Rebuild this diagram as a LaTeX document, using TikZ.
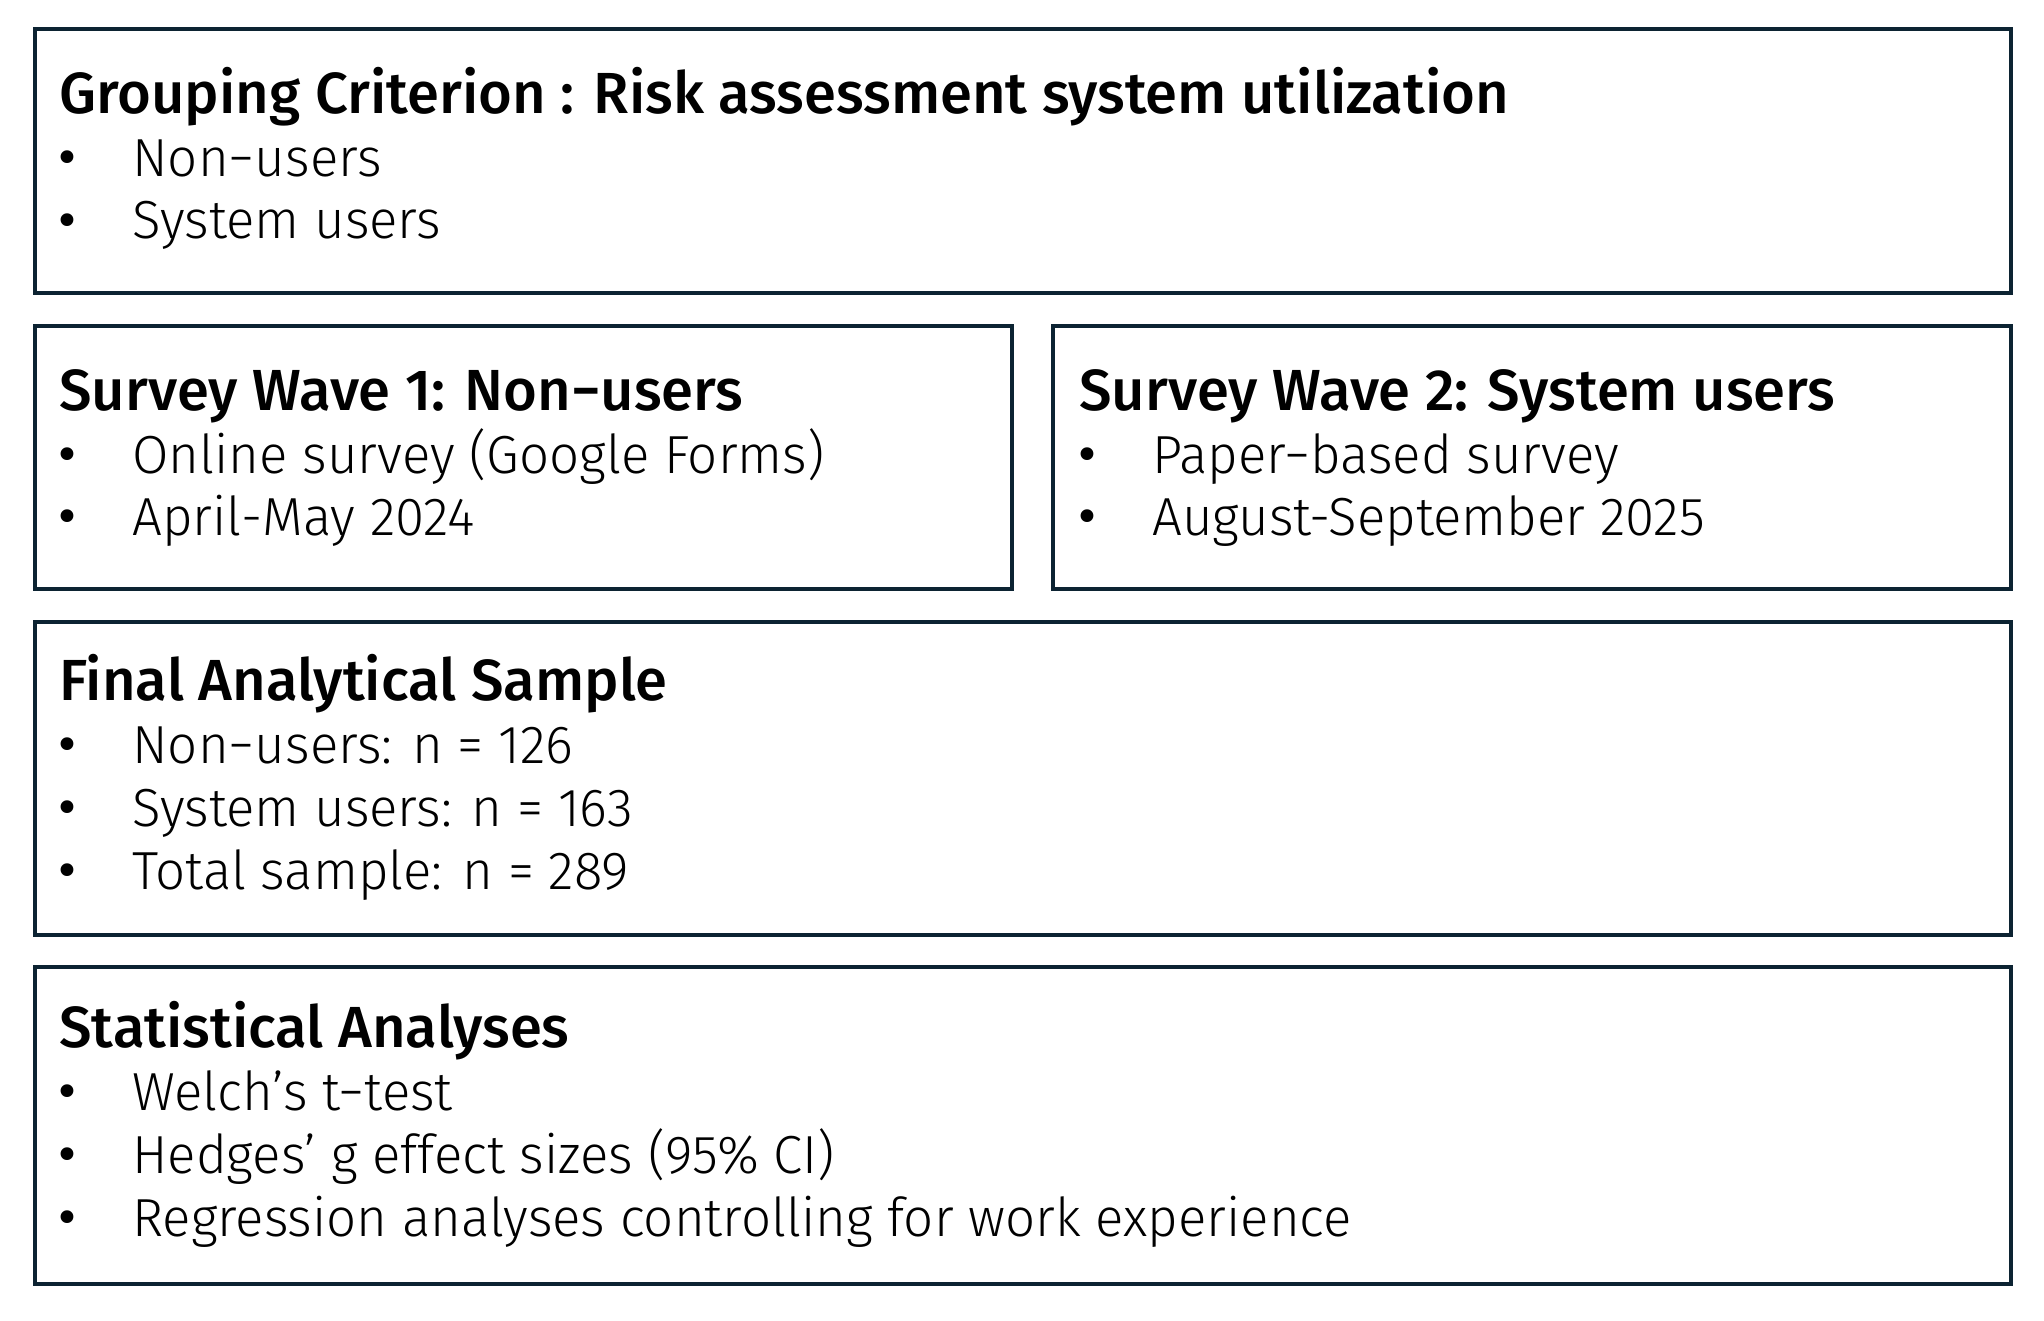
\documentclass[tikz,border=0pt]{standalone}
\usepackage{fontspec}
\usetikzlibrary{fit}
\setmainfont{Fira Sans Light}[FakeStretch=0.985]
\newfontfamily\titlefont{Fira Sans Medium}
\newfontfamily\bulfont{DejaVu Sans}
\definecolor{boxline}{RGB}{12,35,50}
\begin{document}
\begin{tikzpicture}[x=0.5pt,y=-0.5pt,
  box/.style={draw=boxline,line width=2pt,inner sep=0pt},
  ttl/.style={anchor=base west,inner sep=0pt,font=\titlefont\fontsize{29}{29}\selectfont},
  itm/.style={anchor=base west,inner sep=0pt,font=\fontsize{26.8}{26.8}\selectfont},
  bul/.style={anchor=base,inner sep=0pt,font=\bulfont\fontsize{22}{22}\selectfont}]
\useasboundingbox (0,0) rectangle (2044,1321);
% boxes
\node[box,fit={(35,29) (2011,293)}] (b1) {};
\node[box,fit={(35,326) (1012,589)}] (b2) {};
\node[box,fit={(1053,326) (2011,589)}] (b3) {};
\node[box,fit={(35,622) (2011,935)}] (b4) {};
\node[box,fit={(35,967) (2011,1284)}] (b5) {};
% box 1
\node[ttl] (t1) at (59,114) {Grouping Criterion : Risk assessment system utilization};
\node[bul] (p11) at (67,174) {•};
\node[itm] (i11) at (132,177) {Non−users};
\node[bul] (p12) at (67,236) {•};
\node[itm] (i12) at (132,239) {System users};
% box 2
\node[ttl] (t2) at (59,410) {Survey Wave 1: Non−users};
\node[bul] (p21) at (67,470) {•};
\node[itm] (i21) at (132,473) {Online survey (Google Forms)};
\node[bul] (p22) at (67,532) {•};
\node[itm] (i22) at (132,535) {April-May 2024};
% box 3
\node[ttl] (t3) at (1079,410) {Survey Wave 2: System users};
\node[bul] (p31) at (1087,470) {•};
\node[itm] (i31) at (1152,473) {Paper−based survey};
\node[bul] (p32) at (1087,532) {•};
\node[itm] (i32) at (1152,535) {August-September 2025};
% box 4
\node[ttl] (t4) at (59,700) {Final Analytical Sample};
\node[bul] (p41) at (67,760) {•};
\node[itm] (i41) at (132,763) {Non−users: n = 126};
\node[bul] (p42) at (67,823) {•};
\node[itm] (i42) at (132,826) {System users: n = 163};
\node[bul] (p43) at (67,886) {•};
\node[itm] (i43) at (132,889) {Total sample: n = 289};
% box 5
\node[ttl] (t5) at (59,1047) {Statistical Analyses};
\node[bul] (p51) at (67,1107) {•};
\node[itm] (i51) at (132,1110) {Welch’s t−test};
\node[bul] (p52) at (67,1170) {•};
\node[itm] (i52) at (132,1173) {Hedges’ g effect sizes (95\% CI)};
\node[bul] (p53) at (67,1233) {•};
\node[itm] (i53) at (132,1236) {Regression analyses controlling for work experience};
\end{tikzpicture}
\end{document}
